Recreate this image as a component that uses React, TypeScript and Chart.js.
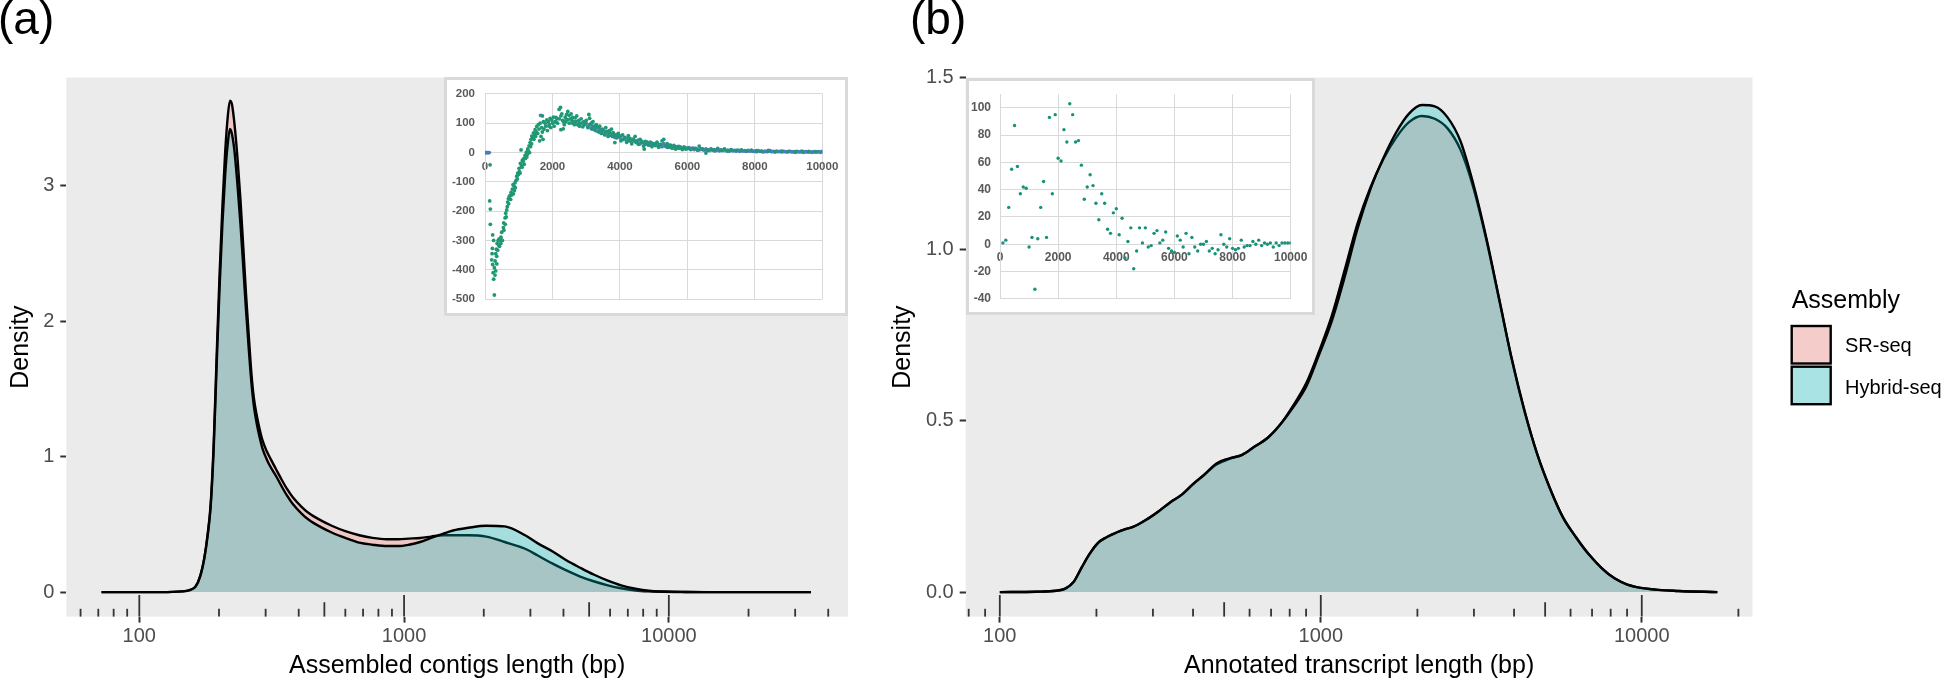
import React, { useEffect, useRef } from "react";
import { Chart, registerables } from "chart.js";
Chart.register(...registerables);

const FONT = '"Liberation Sans", Arial, Helvetica, sans-serif';

// ---------------- Panel (a): density of assembled contig lengths ----------------
const xA = [72, 120, 145, 155, 163, 170, 176, 181, 186, 191,
  196, 201, 206, 211, 216, 220, 224, 229, 235, 241,
  247, 253, 259, 265, 271, 278, 285, 292, 303, 314,
  330, 345, 362, 380, 410, 439, 485, 533, 600, 677,
  760, 861, 950, 1043, 1150, 1264, 1400, 1531, 1750, 2044,
  2400, 2864, 3200, 3641, 4100, 4628, 5200, 5883, 6600, 7478,
  8400, 9506, 11500, 15000, 20000, 34400];
const srA = [0, 0, 0.005, 0.015, 0.04, 0.12, 0.25, 0.42, 0.65, 1.1,
  1.75, 2.35, 2.85, 3.25, 3.52, 3.63, 3.6, 3.45, 3.2, 2.9,
  2.55, 2.2, 1.9, 1.62, 1.43, 1.3, 1.2, 1.12, 1.04, 0.98,
  0.9, 0.83, 0.76, 0.7, 0.63, 0.58, 0.53, 0.49, 0.45, 0.42,
  0.4, 0.39, 0.39, 0.395, 0.4, 0.41, 0.42, 0.42, 0.42, 0.41,
  0.37, 0.32, 0.27, 0.21, 0.16, 0.115, 0.08, 0.05, 0.028, 0.012,
  0.005, 0.002, 0.0005, 0, 0, 0];
const hybA = [0, 0, 0.005, 0.015, 0.04, 0.12, 0.25, 0.41, 0.63, 1.06,
  1.68, 2.25, 2.72, 3.08, 3.32, 3.42, 3.38, 3.25, 3.0, 2.72,
  2.4, 2.08, 1.8, 1.55, 1.37, 1.24, 1.14, 1.06, 0.98, 0.92,
  0.85, 0.78, 0.71, 0.65, 0.58, 0.53, 0.48, 0.44, 0.4, 0.365,
  0.35, 0.34, 0.34, 0.35, 0.37, 0.4, 0.43, 0.455, 0.475, 0.49,
  0.485, 0.42, 0.36, 0.3, 0.235, 0.18, 0.13, 0.085, 0.05, 0.025,
  0.01, 0.004, 0.001, 0, 0, 0];

// ---------------- Panel (b): density of annotated transcript lengths ----------------
const xB = [100, 130, 150, 160, 170, 180, 190, 202, 215, 230,
  245, 260, 285, 312, 340, 370, 400, 431, 473, 519,
  569, 624, 684, 750, 822, 902, 986, 1082, 1188, 1302,
  1428, 1566, 1717, 1883, 2065, 2265, 2483, 2723, 2986, 3274,
  3590, 3936, 4315, 4732, 5188, 5688, 6237, 6839, 7499, 8222,
  9016, 10350, 13000, 17200];
const hybB = [0, 0.001, 0.004, 0.01, 0.03, 0.072, 0.11, 0.143, 0.16, 0.173,
  0.183, 0.19, 0.21, 0.235, 0.262, 0.285, 0.315, 0.34, 0.375, 0.39,
  0.4, 0.425, 0.45, 0.49, 0.54, 0.6, 0.69, 0.79, 0.92, 1.06,
  1.175, 1.265, 1.34, 1.395, 1.42, 1.416, 1.384, 1.315, 1.19, 1.035,
  0.858, 0.68, 0.528, 0.4, 0.3, 0.217, 0.16, 0.11, 0.07, 0.04,
  0.022, 0.01, 0.003, 0];
const srB = [0, 0.001, 0.004, 0.01, 0.03, 0.072, 0.11, 0.143, 0.16, 0.173,
  0.183, 0.19, 0.21, 0.235, 0.262, 0.285, 0.315, 0.34, 0.372, 0.388,
  0.4, 0.425, 0.45, 0.49, 0.545, 0.61, 0.7, 0.805, 0.94, 1.075,
  1.18, 1.262, 1.325, 1.37, 1.388, 1.38, 1.352, 1.29, 1.18, 1.03,
  0.855, 0.678, 0.526, 0.4, 0.3, 0.217, 0.16, 0.11, 0.07, 0.04,
  0.022, 0.01, 0.003, 0];

const xTicksMain = [100, 1000, 10000];
const yTicksA = [0, 1, 2, 3];
const yTicksB = [0, 0.5, 1.0, 1.5];
const seriesNames = ["SR-seq", "Hybrid-seq"];
const legendTitle = "Assembly";
const xTitleA = "Assembled contigs length (bp)";
const xTitleB = "Annotated transcript length (bp)";
const yTitle = "Density";

// ---------------- Inset (a): scatter ----------------
const insetAGreen: [number, number][] = [
  [139, -165], [150, -42], [158, -193], [158, -245], [198, -366], [210, -345], [218, -327], [228, -281],
  [228, -382], [240, -410], [257, -300], [257, -432], [277, -393], [277, -486], [297, -418], [300, -370],
  [317, -404], [320, -345], [337, -330], [346, -354], [350, -380], [360, -310], [376, -333], [390, -300],
  [400, -315], [420, -295], [430, -320], [446, -300], [470, -310], [475, -289], [495, -272], [515, -300],
  [545, -256], [554, -240], [560, -265], [594, -223], [600, -245], [614, -207], [630, -220], [644, -196],
  [660, -185], [673, -169], [693, -158], [700, -175], [720, -150], [743, -147], [760, -160], [772, -136],
  [790, -145], [812, -125], [830, -110], [842, -141], [861, -114], [870, -130], [891, -103], [900, -120],
  [920, -95], [941, -81], [960, -90], [970, -70], [990, -75], [1010, -54], [1020, -65], [1040, -70],
  [1050, -37], [1069, 9], [1080, -45], [1100, -50], [1109, -26], [1130, -30], [1148, -21], [1160, -40],
  [1188, -10], [1200, -20], [1228, 1], [1240, -15], [1260, -5], [1267, 12], [1290, 5], [1307, 23],
  [1320, 0], [1337, 34], [1350, 20], [1366, 45], [1380, 30], [1386, 56], [1410, 50], [1436, 67],
  [1450, 45], [1470, 60], [1485, 78], [1500, 55], [1520, 70], [1535, 89], [1560, 65], [1584, 95],
  [1600, 80], [1620, 40], [1634, 100], [1660, 55], [1680, 85], [1700, 70], [1703, 125], [1720, 45],
  [1733, 105], [1750, 80], [1782, 100], [1800, 90], [1832, 111], [1850, 75], [1881, 105], [1900, 95],
  [1931, 116], [1950, 85], [1980, 111], [2000, 100], [2030, 121], [2050, 90], [2079, 105], [2100, 120],
  [2129, 116], [2150, 100], [2198, 147], [2200, 115], [2238, 154], [2250, 78], [2250, 125], [2277, 132],
  [2300, 110], [2320, 81], [2327, 105], [2350, 95], [2376, 121], [2400, 105], [2420, 130], [2450, 112],
  [2455, 140], [2495, 127], [2500, 100], [2530, 115], [2554, 132], [2574, 110], [2600, 120], [2624, 105],
  [2650, 95], [2673, 118], [2700, 105], [2720, 125], [2750, 95], [2780, 110], [2800, 90], [2850, 115],
  [2870, 100], [2900, 88], [2930, 105], [2960, 95], [3000, 110], [3050, 85], [3080, 130], [3100, 117],
  [3120, 95], [3150, 100], [3180, 80], [3200, 105], [3250, 90], [3280, 75], [3300, 95], [3350, 85],
  [3380, 70], [3400, 90], [3450, 65], [3480, 80], [3500, 75], [3550, 60], [3580, 85], [3600, 70],
  [3650, 55], [3680, 75], [3700, 65], [3750, 80], [3780, 55], [3800, 68], [3850, 34], [3870, 60],
  [3900, 50], [3950, 65], [4000, 55], [4030, 40], [4080, 60], [4100, 45], [4150, 50], [4200, 35],
  [4250, 58], [4280, 40], [4300, 48], [4350, 30], [4400, 45], [4450, 55], [4480, 35], [4500, 40],
  [4550, 28], [4600, 45], [4650, 35], [4700, 22], [4720, 12], [4750, 38], [4800, 30], [4850, 25],
  [4900, 35], [4950, 20], [5000, 30], [5050, 25], [5100, 35], [5150, 18], [5200, 28], [5250, 40],
  [5300, 45], [5350, 22], [5400, 30], [5450, 18], [5500, 25], [5550, 15], [5600, 22], [5650, 12],
  [5700, 20], [5750, 15], [5800, 18], [5850, 10], [5900, 16], [5950, 12], [6000, 15], [6100, 10],
  [6200, 14], [6300, 8], [6350, 22], [6450, 12], [6550, -2], [6600, 8], [6700, 12], [6800, 6],
  [6900, 14], [7000, 8], [7100, 12], [7200, 5], [7300, 10], [7450, 7], [7600, 9], [7750, 5],
  [7900, 8], [8050, 6], [8200, 4], [8400, 7], [8600, 3], [8800, 5], [9000, 4], [9200, 3],
  [9400, 5], [9600, 2], [9800, 3], [10000, 4],
];
const insetABlueExtra: [number, number][] = [
  [0, 0], [25, 0], [50, 0], [75, 0], [100, 0], [125, 0],
  [1650, 127], [1900, 90], [2100, 105], [2400, 115], [2600, 100], [2800, 100],
];
const insetABlueTailStart = 3000;
const insetABlueTailStep = 50;
const insetABlueTail = [
  100, 88, 95, 82, 90, 78, 86, 72, 80, 70, 76, 64, 72, 60, 68, 58, 64, 52, 60, 55,
  50, 58, 45, 52, 40, 48, 42, 36, 46, 38, 34, 42, 30, 38, 33, 28, 36, 30, 26, 32,
  28, 24, 32, 22, 27, 20, 30, 23, 18, 25, 21, 16, 24, 19, 15, 21, 17, 14, 19, 15,
  13, 17, 12, 15, 10, 14, 11, 9, 13, 10, 8, 12, 9, 7, 11, 8, 10, 7, 9, 6,
  9, 7, 10, 6, 8, 5, 9, 6, 7, 5, 8, 4, 7, 5, 6, 4, 7, 5, 6, 4,
  5, 3, 6, 4, 5, 2, 5, 3, 4, 6, 3, 4, 2, 5, 3, 4, 2, 4, 3, 2,
  3, 4, 2, 3, 1, 4, 2, 3, 2, 1, 3, 2, 4, 2, 1, 3, 2, 2, 3, 1, 3,
];

// ---------------- Inset (b): scatter, one point per 100 bp ----------------
const insetBStep = 100;
const insetBY = [
  1, 3, 27, 55, 87, 57, 37, 42, 41, -2,
  5, -33, 4, 27, 46, 5, 93, 37, 95, 63,
  61, 84, 75, 103, 95, 75, 76, 58, 33, 42,
  51, 43, 30, 18, 37, 30, 11, 8, 23, 26,
  7, 19, -10, 2, 12, -18, -5, 12, 1, 12,
  -2, -1, 8, 10, 1, 3, 9, -3, -5, -6,
  6, 3, -2, 8, -7, 5, -2, -5, 0, 0,
  2, -5, -3, -7, -4, 7, 0, -2, 4, -3,
  -4, -3, 3, -2, -1, -1, 2, 0, 3, -1,
  1, 0, 1, -2, 1, -1, 1, 1, 1, 1,
];

// ---------------- styling ----------------
const SR_FILL = "rgba(248,118,109,0.3)";
const HYB_FILL = "rgba(0,191,196,0.3)";
const SR_KEY = "rgb(244,205,202)";
const HYB_KEY = "rgb(169,227,228)";
const GREEN = "#1f9873";
const BLUE = "#4a7dbe";

const panelBg = {
  id: "panelBg",
  beforeDraw(chart: any) {
    const { ctx, chartArea } = chart;
    ctx.save();
    ctx.fillStyle = "#EBEBEB";
    ctx.fillRect(chartArea.left, chartArea.top, chartArea.right - chartArea.left, chartArea.bottom - chartArea.top);
    ctx.restore();
  },
};

const logTicks = {
  id: "logTicks",
  afterDatasetsDraw(chart: any) {
    const xs = chart.scales.x;
    const { ctx, chartArea } = chart;
    ctx.save();
    ctx.strokeStyle = "#333333";
    ctx.lineWidth = 1.8;
    for (let d = 1; d <= 5; d++) {
      for (let k = 1; k <= 9; k++) {
        const v = k * Math.pow(10, d);
        if (v < xs.min || v > xs.max) continue;
        const px = xs.getPixelForValue(v);
        const len = k === 1 ? 21.6 : k === 5 ? 14.4 : 7.8;
        ctx.beginPath();
        ctx.moveTo(px, chartArea.bottom);
        ctx.lineTo(px, chartArea.bottom - len);
        ctx.stroke();
      }
    }
    ctx.restore();
  },
};

function makeOverlay(label: string, labelX: number, withLegend: boolean) {
  return {
    id: "overlay",
    afterDraw(chart: any) {
      const ctx = chart.ctx;
      ctx.save();
      ctx.fillStyle = "#000";
      ctx.textBaseline = "alphabetic";
      ctx.textAlign = "left";
      ctx.font = `46px ${FONT}`;
      ctx.fillText(label, labelX, 34);
      if (withLegend) {
        const lx = 911.7;
        ctx.font = `25px ${FONT}`;
        ctx.fillText(legendTitle, lx, 308);
        const keys = [SR_KEY, HYB_KEY];
        const tops = [326, 366.7];
        const baselines = [352, 393.8];
        for (let i = 0; i < 2; i++) {
          ctx.fillStyle = keys[i];
          ctx.fillRect(lx, tops[i], 39, 37.5);
          ctx.strokeStyle = "#000";
          ctx.lineWidth = 2.4;
          ctx.strokeRect(lx, tops[i], 39, 37.5);
          ctx.fillStyle = "#000";
          ctx.font = `20px ${FONT}`;
          ctx.fillText(seriesNames[i], 965, baselines[i]);
        }
      }
      ctx.restore();
    },
  };
}

function mainConfig(o: any) {
  const mk = (ys: number[]) => o.x.map((v: number, i: number) => ({ x: v, y: ys[i] }));
  return {
    type: "line",
    data: {
      datasets: [
        {
          label: seriesNames[1], data: mk(o.hyb), borderColor: "#000", borderWidth: 2.4,
          backgroundColor: HYB_FILL, fill: "origin", pointRadius: 0, cubicInterpolationMode: "monotone",
        },
        {
          label: seriesNames[0], data: mk(o.sr), borderColor: "#000", borderWidth: 2.4,
          backgroundColor: SR_FILL, fill: "origin", pointRadius: 0, cubicInterpolationMode: "monotone",
        },
      ],
    },
    options: {
      responsive: false,
      animation: false,
      events: [],
      layout: { padding: { left: o.padLeft, top: 77.6, right: o.padRight, bottom: 4.5 } },
      plugins: { legend: { display: false }, tooltip: { enabled: false } },
      scales: {
        x: {
          type: "logarithmic",
          min: o.xMin,
          max: o.xMax,
          afterBuildTicks: (s: any) => { s.ticks = xTicksMain.map((value) => ({ value })); },
          afterFit: (s: any) => { s.height = 683 - 4.5 - 616.6; },
          ticks: {
            callback: (v: any) => String(v),
            autoSkip: false, maxRotation: 0, color: "#4D4D4D", padding: 2,
            font: { family: FONT, size: 20 },
          },
          grid: { drawOnChartArea: false, drawTicks: true, tickLength: 6, tickWidth: 2, tickColor: "#333333" },
          border: { display: false },
          title: { display: true, text: o.xTitle, color: "#000", padding: 0, font: { family: FONT, size: 25, lineHeight: 1 } },
        },
        y: {
          type: "linear",
          min: o.yMin,
          max: o.yMax,
          afterBuildTicks: (s: any) => { s.ticks = o.yTicks.map((value: number) => ({ value })); },
          afterFit: (s: any) => { s.width = o.yAxisWidth; },
          ticks: {
            callback: o.yFmt, color: "#4D4D4D", padding: 6,
            font: { family: FONT, size: 20 },
          },
          grid: { drawOnChartArea: false, drawTicks: true, tickLength: 6, tickWidth: 2, tickColor: "#333333" },
          border: { display: false },
          title: { display: true, text: yTitle, color: "#000", padding: 0, font: { family: FONT, size: 25, lineHeight: 1 } },
        },
      },
    },
    plugins: [panelBg, logTicks, makeOverlay(o.label, o.labelX, o.legend)],
  };
}

const insetFrame = {
  id: "insetFrame",
  beforeDraw(chart: any) {
    const { ctx, width, height } = chart;
    ctx.save();
    ctx.fillStyle = "#fff";
    ctx.fillRect(0, 0, width, height);
    ctx.restore();
  },
  afterDraw(chart: any) {
    const { ctx, width, height } = chart;
    ctx.save();
    ctx.strokeStyle = "#D9D9D9";
    ctx.lineWidth = 3;
    ctx.strokeRect(1.5, 1.5, width - 3, height - 3);
    ctx.restore();
  },
};

function insetConfig(o: any) {
  const tickFont = { family: FONT, size: o.fontSize, weight: "bold" };
  return {
    type: "scatter",
    data: { datasets: o.datasets },
    options: {
      responsive: false,
      animation: false,
      events: [],
      layout: { padding: o.pad },
      plugins: { legend: { display: false }, tooltip: { enabled: false } },
      scales: {
        x: {
          type: "linear", position: { y: 0 }, min: 0, max: 10000,
          ticks: { stepSize: 2000, autoSkip: false, maxRotation: 0, color: "#595959", font: tickFont, padding: o.xPad, callback: (v: any) => String(v) },
          grid: { color: "#D9D9D9", lineWidth: 1, drawTicks: false },
          border: { color: "#D9D9D9", width: 1 },
        },
        y: {
          type: "linear", min: o.yMin, max: o.yMax,
          afterBuildTicks: (s: any) => { s.ticks = s.ticks.filter((t: any) => Math.abs(t.value % o.yStep) < 1e-6); },
          afterFit: (s: any) => { s.width = o.yWidth; },
          ticks: { stepSize: o.yStep, color: "#595959", font: tickFont, padding: o.yPad, callback: (v: any) => String(v) },
          grid: { color: "#D9D9D9", lineWidth: 1, drawTicks: false },
          border: { color: "#D9D9D9", width: 1 },
        },
      },
    },
    plugins: [insetFrame],
  };
}

export default function App() {
  const aRef = useRef<HTMLCanvasElement>(null);
  const bRef = useRef<HTMLCanvasElement>(null);
  const iaRef = useRef<HTMLCanvasElement>(null);
  const ibRef = useRef<HTMLCanvasElement>(null);

  useEffect(() => {
    const charts: Chart[] = [];
    charts.push(new Chart(aRef.current as any, mainConfig({
      x: xA, sr: srA, hyb: hybA, xMin: 53, xMax: 47500, yMin: -0.181, yMax: 3.8,
      yTicks: yTicksA, yFmt: (v: any) => String(v), xTitle: xTitleA,
      padLeft: 8.7, padRight: 32, yAxisWidth: 57.6, label: "(a)", labelX: -2, legend: false,
    }) as any));
    charts.push(new Chart(bRef.current as any, mainConfig({
      x: xB, sr: srB, hyb: hybB, xMin: 78.3, xMax: 22130, yMin: -0.0715, yMax: 1.5,
      yTicks: yTicksB, yFmt: (v: any) => Number(v).toFixed(1), xTitle: xTitleB,
      padLeft: 10.5, padRight: 193.5, yAxisWidth: 75.2, label: "(b)", labelX: 30, legend: true,
    }) as any));

    const blueA = insetABlueExtra.map(([x, y]) => ({ x, y })).concat(
      insetABlueTail.map((y, i) => ({ x: insetABlueTailStart + i * insetABlueTailStep, y }))
    );
    charts.push(new Chart(iaRef.current as any, insetConfig({
      datasets: [
        { data: insetAGreen.map(([x, y]) => ({ x, y })), pointRadius: 1.9, pointBorderWidth: 0, pointBackgroundColor: GREEN },
        { data: blueA, pointRadius: 1.9, pointBorderWidth: 0, pointBackgroundColor: BLUE },
      ],
      yMin: -500, yMax: 200, yStep: 100, yWidth: 41, fontSize: 11.5, xPad: 7, yPad: 10,
      pad: { left: 0, top: 13.7, right: 25.7, bottom: 14.3 },
    }) as any));
    charts.push(new Chart(ibRef.current as any, insetConfig({
      datasets: [
        { data: insetBY.map((y, i) => ({ x: (i + 1) * insetBStep, y })), pointRadius: 1.7, pointBorderWidth: 0, pointBackgroundColor: "#17917a" },
      ],
      yMin: -40, yMax: 110, yStep: 20, yWidth: 34, fontSize: 12, xPad: 6, yPad: 9,
      pad: { left: 0, top: 11.5, right: 24.3, bottom: 11.7 },
    }) as any));
    return () => charts.forEach((c) => c.destroy());
  }, []);

  return (
    <div style={{ position: "absolute", left: 0, top: 0, width: 1946, height: 683, background: "#fff", overflow: "hidden" }}>
      <canvas ref={aRef} width={880} height={683} style={{ position: "absolute", left: 0, top: 0 }} />
      <canvas ref={bRef} width={1066} height={683} style={{ position: "absolute", left: 880, top: 0 }} />
      <canvas ref={iaRef} width={404} height={239} style={{ position: "absolute", left: 444, top: 77 }} />
      <canvas ref={ibRef} width={349} height={237} style={{ position: "absolute", left: 966, top: 78 }} />
    </div>
  );
}
